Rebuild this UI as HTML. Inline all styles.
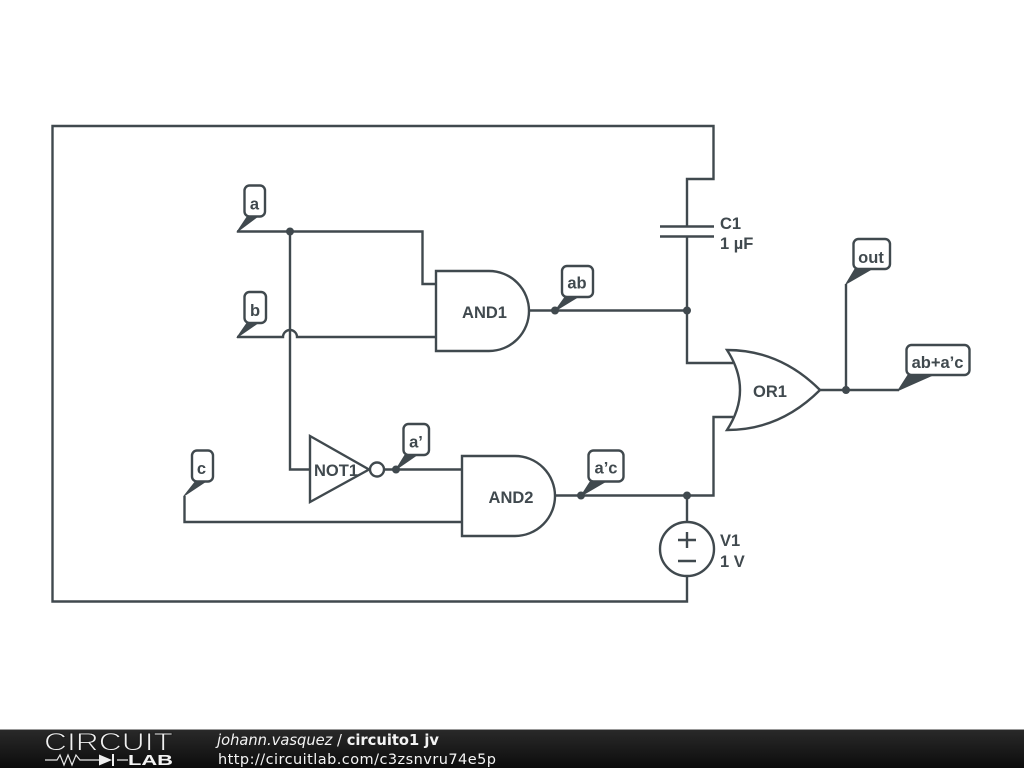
<!DOCTYPE html>
<html><head><meta charset="utf-8"><style>
html,body{margin:0;padding:0;background:#fff}
svg{display:block}
.w{fill:none;stroke:#40494e;stroke-width:2.4;stroke-linejoin:miter}
.l{fill:#fff;stroke:#40494e;stroke-width:2.4}
.t{fill:#40494e;stroke:#40494e;stroke-width:1;stroke-linejoin:round}
text{font-family:"Liberation Sans",sans-serif;font-weight:bold;font-size:16.5px;fill:#40494e}
.m{text-anchor:middle}
.f{font-family:"DejaVu Sans",sans-serif;font-size:14.7px;fill:#f4f4f4;font-weight:normal}
</style></head><body>
<svg width="1024" height="768" viewBox="0 0 1024 768" xmlns="http://www.w3.org/2000/svg">
<defs><linearGradient id="g" x1="0" y1="0" x2="0" y2="1"><stop offset="0" stop-color="#2a2a2a"/><stop offset="1" stop-color="#0c0c0c"/></linearGradient></defs>
<rect width="1024" height="768" fill="#fff"/>

<!-- wires -->
<path class="w" d="M687,575V601.5H52.5V126H713.5V179H687V226"/>
<path class="w" d="M660,226.5H714M660,236.5H714"/>
<path class="w" d="M687,236V363H733"/>
<path class="w" d="M237,231.5H422.5V284H436"/>
<path class="w" d="M237,337H283A7,7 0 0 1 297,337H436"/>
<path class="w" d="M290,231.5V469.5H310"/>
<path class="w" d="M384,469.5H462"/>
<path class="w" d="M184.500,496V522H462"/>
<path class="w" d="M529,310.500H687"/>
<path class="w" d="M555,495.500H713.500V417H733"/>
<path class="w" d="M687,495.500V522"/>
<path class="w" d="M820,390H899M846,390V284"/>

<!-- gates -->
<path class="l" d="M436,271H489A40,40 0 0 1 489,351H436Z"/>
<path class="l" d="M462,456H515A40,40 0 0 1 515,536H462Z"/>
<path class="l" d="M727,350Q753,390 727,430Q780,430 820,390Q780,350 727,350Z"/>
<path class="l" d="M310,436V502L369,469.500Z"/>
<circle class="l" cx="377" cy="469.500" r="7"/>
<circle class="l" cx="687" cy="549" r="27"/>
<path class="w" d="M678,540H696M687,532V548M678,561H696"/>

<!-- dots -->
<g class="t">
<circle cx="290" cy="231.500" r="3.500"/>
<circle cx="555" cy="310.500" r="3.500"/>
<circle cx="687" cy="310.500" r="3.500"/>
<circle cx="396" cy="469.500" r="3.500"/>
<circle cx="581" cy="495.500" r="3.500"/>
<circle cx="687" cy="495.500" r="3.500"/>
<circle cx="846" cy="390" r="3.500"/>
<!-- tails -->
<path d="M237,232L247,217H257Z"/>
<path d="M237,337.500L247,323H258Z"/>
<path d="M184,496L195,482H205Z"/>
<path d="M396,469.500L405,455H417Z"/>
<path d="M555,311L565,297H578Z"/>
<path d="M581,496L590,482H605Z"/>
<path d="M846,284L855,269H872Z"/>
<path d="M898,390.500L908,375H933Z"/>
</g>

<!-- label boxes -->
<rect class="l" x="244.500" y="185.500" width="20.500" height="31" rx="5"/>
<rect class="l" x="244.500" y="292" width="21.500" height="31" rx="5"/>
<rect class="l" x="192" y="450.500" width="21" height="31" rx="5"/>
<rect class="l" x="403.500" y="424" width="25.500" height="31" rx="5"/>
<rect class="l" x="562" y="266" width="31" height="31" rx="5"/>
<rect class="l" x="588.500" y="450.500" width="35" height="31" rx="5"/>
<rect class="l" x="853.500" y="239" width="36.500" height="30" rx="5"/>
<rect class="l" x="906.500" y="345" width="63" height="30" rx="5"/>

<!-- texts -->
<text class="m" x="254.500" y="209.500">a</text>
<text class="m" x="255" y="316">b</text>
<text class="m" x="201.500" y="474">c</text>
<text class="m" x="416" y="447.500">a’</text>
<text class="m" x="577" y="288.500">ab</text>
<text class="m" x="606" y="473.500">a’c</text>
<text class="m" x="871" y="263">out</text>
<text class="m" x="937.500" y="368">ab+a’c</text>
<text class="m" x="484.500" y="318">AND1</text>
<text class="m" x="511" y="503">AND2</text>
<text class="m" x="770" y="397">OR1</text>
<text x="314" y="476">NOT1</text>
<text x="720" y="229">C1</text>
<text x="720" y="249">1 µF</text>
<text x="720" y="546">V1</text>
<text x="720" y="567">1 V</text>

<!-- footer -->
<rect x="0" y="729" width="1024" height="39" fill="url(#g)"/>
<rect x="0" y="729" width="1024" height="1" fill="#999"/>
<text x="44" y="750.500" textLength="129" lengthAdjust="spacingAndGlyphs" style="font-size:25px;font-weight:normal;fill:#f0f0f0;stroke:#1c1c1c;stroke-width:.9;paint-order:fill">CIRCUIT</text>
<path d="M45,760H57L60,755L64,765L68,755L72,765L76,755L80,760H99M117,760H128" fill="none" stroke="#e8e8e8" stroke-width="1.200"/>
<path d="M99,754.500V765.500L112,760Z" fill="#f0f0f0"/>
<path d="M113,754V766" stroke="#f0f0f0" stroke-width="2"/>
<text x="128" y="765" textLength="45" lengthAdjust="spacingAndGlyphs" style="font-size:15px;fill:#f4f4f4;font-weight:bold">LAB</text>
<text class="f" x="217" y="745"><tspan font-style="italic">johann.vasquez</tspan> / <tspan style="font-weight:bold">circuito1 jv</tspan></text>
<text class="f" x="218" y="764" textLength="278" style="font-size:14.500px">http://circuitlab.com/c3zsnvru74e5p</text>
</svg>
</body></html>
